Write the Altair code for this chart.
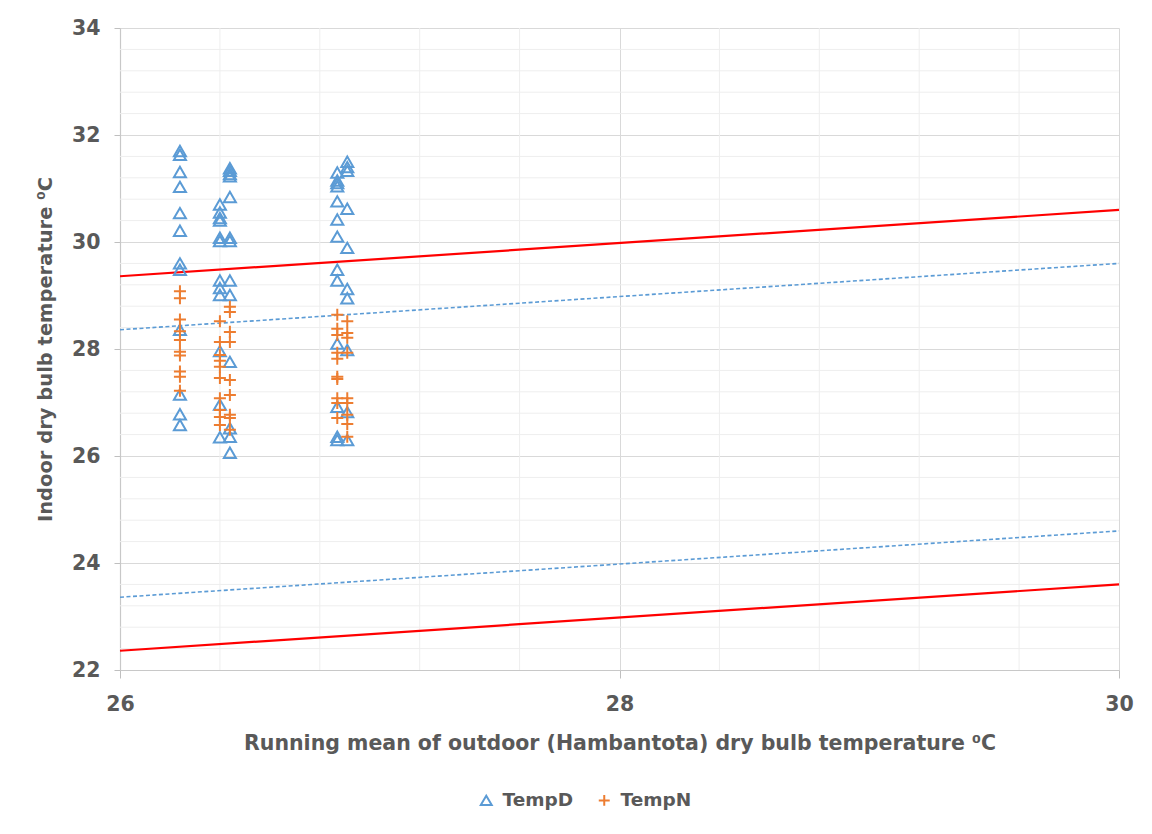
import altair as alt
import pandas as pd

# ---- data ----
xA, xB, xC, xD, xE = 26.24, 26.40, 26.44, 26.87, 26.91

tempD_A = [31.70, 31.63, 31.31, 31.03, 30.54, 30.21, 29.60, 29.48, 28.36, 27.15, 26.78, 26.58]
tempD_B = [30.70, 30.55, 30.45, 30.40, 30.08, 30.02, 29.28, 29.14, 29.01, 27.96, 26.96, 26.35]
tempD_C = [31.38, 31.33, 31.27, 31.23, 30.84, 30.08, 30.02, 29.28, 29.01, 27.76, 26.52, 26.36, 26.06]
tempD_D = [31.30, 31.15, 31.10, 31.04, 30.76, 30.42, 30.10, 29.48, 29.28, 28.10, 26.92, 26.36, 26.30]
tempD_E = [31.50, 31.40, 31.33, 30.62, 29.89, 29.12, 28.95, 27.98, 26.82, 26.30]

tempN_A = [29.08, 28.95, 28.55, 28.33, 28.17, 27.95, 27.88, 27.58, 27.48, 27.22]
tempN_B = [28.52, 28.13, 27.89, 27.78, 27.67, 27.46, 27.08, 26.86, 26.73, 26.58]
tempN_C = [28.79, 28.69, 28.32, 28.13, 27.42, 27.14, 26.77, 26.71, 26.49]
tempN_D = [28.64, 28.38, 28.26, 27.93, 27.82, 27.48, 27.44, 27.08, 26.99, 26.71]
tempN_E = [28.52, 28.30, 28.21, 27.93, 27.08, 26.99, 26.77, 26.60, 26.36]

line_x = [26, 30]
upper80 = [29.36, 30.60]
lower80 = [22.36, 23.60]
upper90 = [28.36, 29.60]
lower90 = [23.36, 24.60]

x_major = [26, 28, 30]
y_major = [22, 24, 26, 28, 30, 32, 34]
x_minor = [26.4, 26.8, 27.2, 27.6, 28.4, 28.8, 29.2, 29.6]
y_minor = [22.4, 22.8, 23.2, 23.6, 24.4, 24.8, 25.2, 25.6, 26.4, 26.8, 27.2, 27.6,
           28.4, 28.8, 29.2, 29.6, 30.4, 30.8, 31.2, 31.6, 32.4, 32.8, 33.2, 33.6]

series_names = ["TempD", "TempN"]
series_colors = ["#5b9bd5", "#ed7d31"]

# ---- build tables ----
rows = []
for xv, vals in [(xA, tempD_A), (xB, tempD_B), (xC, tempD_C), (xD, tempD_D), (xE, tempD_E)]:
    rows += [{"x": xv, "y": v, "series": "TempD"} for v in vals]
for xv, vals in [(xA, tempN_A), (xB, tempN_B), (xC, tempN_C), (xD, tempN_D), (xE, tempN_E)]:
    rows += [{"x": xv, "y": v, "series": "TempN"} for v in vals]
pts = pd.DataFrame(rows)

red = pd.DataFrame(
    [{"x": a, "y": b, "line": "u80"} for a, b in zip(line_x, upper80)]
    + [{"x": a, "y": b, "line": "l80"} for a, b in zip(line_x, lower80)]
)
blue = pd.DataFrame(
    [{"x": a, "y": b, "line": "u90"} for a, b in zip(line_x, upper90)]
    + [{"x": a, "y": b, "line": "l90"} for a, b in zip(line_x, lower90)]
)
gx = pd.DataFrame({"x": x_minor})
gy = pd.DataFrame({"y": y_minor})

FONT = "DejaVu Sans"
GREY = "#595959"

common = dict(
    format="d",
    labelOverlap=False,
    labelFlush=False,
    gridColor="#d9d9d9",
    gridWidth=1,
    tickColor="#bfbfbf", domainColor="#c8c8c8", domainWidth=1.2,
    labelFont=FONT, labelFontSize=20.5, labelFontWeight="bold", labelColor=GREY,
    titleFont=FONT, titleFontWeight="bold", titleColor=GREY,
)

x_axis = alt.Axis(
    values=x_major, tickSize=8,
    labelPadding=16, titlePadding=19, titleFontSize=20.5,
    title="Running mean of outdoor (Hambantota) dry bulb temperature \u2070C",
    **common,
)
y_axis = alt.Axis(
    values=y_major, tickSize=6,
    labelPadding=14, titlePadding=16, titleFontSize=19.5,
    title="Indoor dry bulb temperature \u2070C",
    **common,
)

xs = alt.Scale(domain=[26, 30], nice=False, zero=False)
ys = alt.Scale(domain=[22, 34], nice=False, zero=False)

base_x = alt.X("x:Q", scale=xs, axis=x_axis)
base_y = alt.Y("y:Q", scale=ys, axis=y_axis)

minor_x = alt.Chart(gx).mark_rule(color="#eeeeee", strokeWidth=1).encode(x=base_x)
minor_y = alt.Chart(gy).mark_rule(color="#eeeeee", strokeWidth=1).encode(y=base_y)

red_lines = alt.Chart(red).mark_line(color="#ff0000", strokeWidth=2.2).encode(
    x=base_x, y=base_y, detail="line:N"
)
blue_lines = alt.Chart(blue).mark_line(color="#5b9bd5", strokeWidth=1.6, strokeDash=[4, 2.5]).encode(
    x=base_x, y=base_y, detail="line:N"
)

points = alt.Chart(pts).mark_point(filled=False, strokeWidth=2, size=145, opacity=1).encode(
    x=base_x, y=base_y,
    color=alt.Color("series:N", scale=alt.Scale(domain=series_names, range=series_colors),
                    legend=alt.Legend(title=None, orient="none", direction="horizontal",
                                      legendX=357, legendY=763,
                                      labelFont=FONT, labelFontSize=18.5, labelFontWeight="bold",
                                      labelColor=GREY, symbolStrokeWidth=2, symbolSize=120,
                                      columnPadding=20, labelOffset=7)),
    shape=alt.Shape("series:N", scale=alt.Scale(domain=series_names,
                                                 range=["triangle-up", "M-1,0H1M0,-1V1"]),
                    legend=None),
)

chart = alt.layer(minor_x, minor_y, red_lines, blue_lines, points).properties(
    width=999, height=642,
    padding={"left": 112, "top": 20, "right": 25, "bottom": 156},
    autosize=alt.AutoSizeParams(type="none"),
    background="white",
).configure_view(stroke=None)

chart.save("out.html", embed_options={"renderer": "svg", "actions": False})
